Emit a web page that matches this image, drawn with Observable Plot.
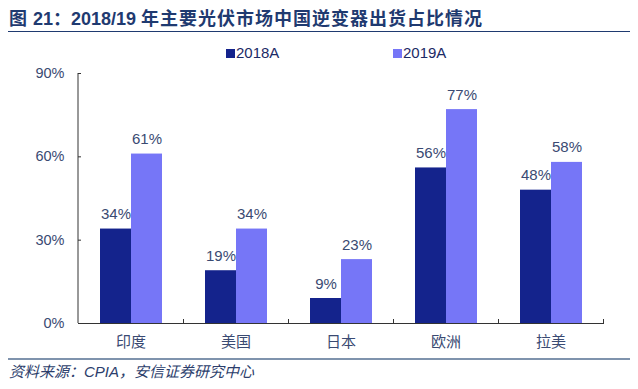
<!DOCTYPE html>
<html><head><meta charset="utf-8">
<script src="https://cdn.jsdelivr.net/npm/d3@7"></script>
<script src="https://cdn.jsdelivr.net/npm/@observablehq/plot@0.6"></script>
<style>
body{margin:0;background:#fff;width:638px;height:389px;position:relative;overflow:hidden;font-family:"Liberation Sans","Noto Sans CJK SC",sans-serif;}
#title{position:absolute;left:9px;top:7px;font-size:18px;line-height:20px;font-weight:bold;color:#1f3a70;white-space:nowrap;}
#title .cj{font-family:"Noto Sans CJK SC",sans-serif;font-size:18px;letter-spacing:1px;}
#rule1{position:absolute;left:8px;top:31px;width:622px;height:0;border-top:1.5px solid #1f3a70;}
.leg{position:absolute;top:45px;font-size:15px;line-height:16px;color:#1c2a66;display:flex;align-items:center;}
.sw{width:9px;height:9px;margin-right:1px;}
#chart{position:absolute;left:0;top:62px;}
#rule2{position:absolute;left:8px;top:358px;width:622px;border-top:2px solid #7f93ad;}
#source{position:absolute;left:9px;top:363px;font-size:15px;line-height:18px;font-style:italic;color:#2c3e6c;white-space:nowrap;}
</style></head>
<body>
<div id="title"><span class="cj">图</span> 21：2018/19 <span class="cj">年主要光伏市场中国逆变器出货占比情况</span></div>
<div id="rule1"></div>
<div id="legend"></div>
<div id="chart"></div>
<div id="rule2"></div>
<div id="source">资料来源：CPIA，安信证券研究中心</div>
<script>
const regions = ["印度", "美国", "日本", "欧洲", "拉美"];
const seriesNames = ["2018A", "2019A"];
const values2018 = [0.34, 0.19, 0.09, 0.56, 0.48];
const values2019 = [0.61, 0.34, 0.23, 0.77, 0.58];
const yTicks = [0, 0.3, 0.6, 0.9];
const colors = ["#14238c", "#7676f7"];

const data = [];
regions.forEach((r, i) => {
  data.push({region: r, series: seriesNames[0], value: values2018[i]});
  data.push({region: r, series: seriesNames[1], value: values2019[i]});
});

// legend
const legendX = [226, 393];
seriesNames.forEach((s, i) => {
  const d = document.createElement("div");
  d.className = "leg";
  d.style.left = legendX[i] + "px";
  d.innerHTML = `<span class="sw" style="background:${colors[i]}"></span><span>${s}</span>`;
  document.getElementById("legend").appendChild(d);
});

const fmt = d3.format(".0%");
const textColor = "#3a4a72";

const chart = Plot.plot({
  width: 638,
  height: 295,
  marginTop: 11,
  marginBottom: 34,
  marginLeft: 78,
  marginRight: 35,
  style: {fontFamily: '"Liberation Sans","Noto Sans CJK SC",sans-serif', background: "#fff"},
  fx: {domain: regions, padding: 0, label: null},
  x: {domain: seriesNames, paddingInner: 0, paddingOuter: 0.69, axis: null},
  y: {domain: [0, 0.9], ticks: yTicks, tickFormat: fmt, label: null},
  color: {domain: seriesNames, range: colors},
  marks: [
    Plot.barY(data, {fx: "region", x: "series", y: "value", fill: "series"}),
    Plot.text(data, {fx: "region", x: "series", y: "value", text: d => fmt(d.value), lineAnchor: "bottom", dy: -10, fill: textColor, fontSize: 15}),
    Plot.ruleY([0], {stroke: "#333"}),
    Plot.frame({anchor: "right", insetTop: 246, stroke: "#333"}),
    Plot.axisY({ticks: yTicks, tickFormat: fmt, tickSize: -3, tickPadding: 17, fontSize: 14.5, fill: textColor, stroke: "#333", label: null}),
    Plot.axisFx({anchor: "bottom", tickSize: 0, tickPadding: 13, fontSize: 15, fill: textColor, label: null})
  ]
});
// y axis line, positioned from the plot's own scales
const ys = chart.scale("y");
const fxs = chart.scale("fx");
d3.select(chart).append("line")
  .attr("x1", fxs.range[0]).attr("x2", fxs.range[0])
  .attr("y1", ys.apply(ys.domain[0])).attr("y2", ys.apply(ys.domain[1]))
  .attr("stroke", "#333");
document.getElementById("chart").appendChild(chart);
</script>
</body></html>
